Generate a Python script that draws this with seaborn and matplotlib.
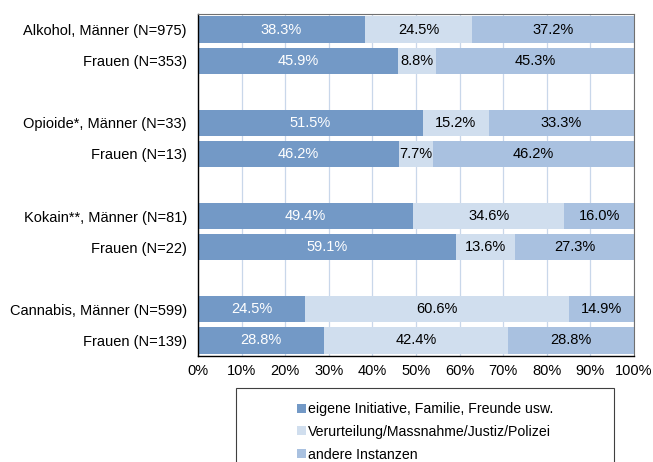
import matplotlib
matplotlib.use("Agg")
import matplotlib.pyplot as plt
from matplotlib.patches import Rectangle, Patch
import seaborn as sns
import pandas as pd

labels = ["Alkohol, Männer (N=975)", "Frauen (N=353)",
          "Opioide*, Männer (N=33)", "Frauen (N=13)",
          "Kokain**, Männer (N=81)", "Frauen (N=22)",
          "Cannabis, Männer (N=599)", "Frauen (N=139)"]
eigene = [38.3, 45.9, 51.5, 46.2, 49.4, 59.1, 24.5, 28.8]
justiz = [24.5, 8.8, 15.2, 7.7, 34.6, 13.6, 60.6, 42.4]
andere = [37.2, 45.3, 33.3, 46.2, 16.0, 27.3, 14.9, 28.8]
series = ["eigene Initiative, Familie, Freunde usw.",
          "Verurteilung/Massnahme/Justiz/Polizei",
          "andere Instanzen"]
colors = ["#7399C6", "#D0DEEE", "#A9C1E0"]

# empty categories make the gaps between the substance groups
order = labels[0:2] + ["gap1"] + labels[2:4] + ["gap2"] + labels[4:6] + ["gap3"] + labels[6:8]

df = pd.DataFrame({"label": labels, "eigene": eigene, "justiz": justiz, "andere": andere})
df["c1"] = df["eigene"]
df["c2"] = df["eigene"] + df["justiz"]
df["c3"] = df["c2"] + df["andere"]

plt.rcParams["font.family"] = ["Liberation Sans", "DejaVu Sans"]
fs = 10.5
fig = plt.figure(figsize=(6.53, 4.62), dpi=100)
ax = fig.add_axes([198 / 653, 1 - 356 / 462, 436 / 653, 342 / 462])

# cumulative bars drawn back to front
for col, color in [("c3", colors[2]), ("c2", colors[1]), ("c1", colors[0])]:
    sns.barplot(data=df, x=col, y="label", order=order, color=color, width=0.84,
                saturation=1, edgecolor="none", ax=ax, zorder=2)

# segment labels
pos = {lab: i for i, lab in enumerate(order)}
for _, r in df.iterrows():
    y = pos[r["label"]]
    ax.text(r["eigene"] / 2, y, f"{r['eigene']:.1f}%", ha="center", va="center",
            color="white", fontsize=fs, zorder=3)
    ax.text(r["eigene"] + r["justiz"] / 2, y, f"{r['justiz']:.1f}%", ha="center",
            va="center", color="black", fontsize=fs, zorder=3)
    ax.text(r["c2"] + r["andere"] / 2, y, f"{r['andere']:.1f}%", ha="center",
            va="center", color="black", fontsize=fs, zorder=3)

ax.set_xlim(0, 100)
ax.set_ylim(len(order) - 0.5, -0.5)
ax.set_xticks(range(0, 101, 10))
ax.set_xticklabels([f"{v}%" for v in range(0, 101, 10)], fontsize=fs)
ax.set_yticks(range(len(order)))
ax.set_yticklabels([l if not l.startswith("gap") else "" for l in order], fontsize=fs)
ax.tick_params(axis="y", length=0, pad=8)
ax.tick_params(axis="x", length=0, pad=6)
ax.set_xlabel("")
ax.set_ylabel("")
ax.grid(axis="x", color="#C9D7EA", linewidth=0.9, zorder=0)
ax.set_axisbelow(True)
for s in ["top", "right"]:
    ax.spines[s].set_color("#707070")
    ax.spines[s].set_linewidth(0.8)
for s in ["left", "bottom"]:
    ax.spines[s].set_color("black")
    ax.spines[s].set_linewidth(1.0)

# legend box (cut off at the bottom like the reference)
fig.patches.append(Rectangle((236 / 653, -0.05), 378 / 653, 0.05 + (462 - 388) / 462,
                             transform=fig.transFigure, facecolor="white",
                             edgecolor="#404040", linewidth=0.8))
handles = [Patch(facecolor=c, edgecolor="none") for c in colors]
fig.legend(handles, series, loc="upper left", bbox_to_anchor=(290 / 653, 1 - 395 / 462),
           frameon=False, fontsize=10.2, handlelength=0.6, handleheight=0.6,
           handletextpad=0.2, labelspacing=0.62, borderpad=0)

fig.savefig("out.png", dpi=100)
